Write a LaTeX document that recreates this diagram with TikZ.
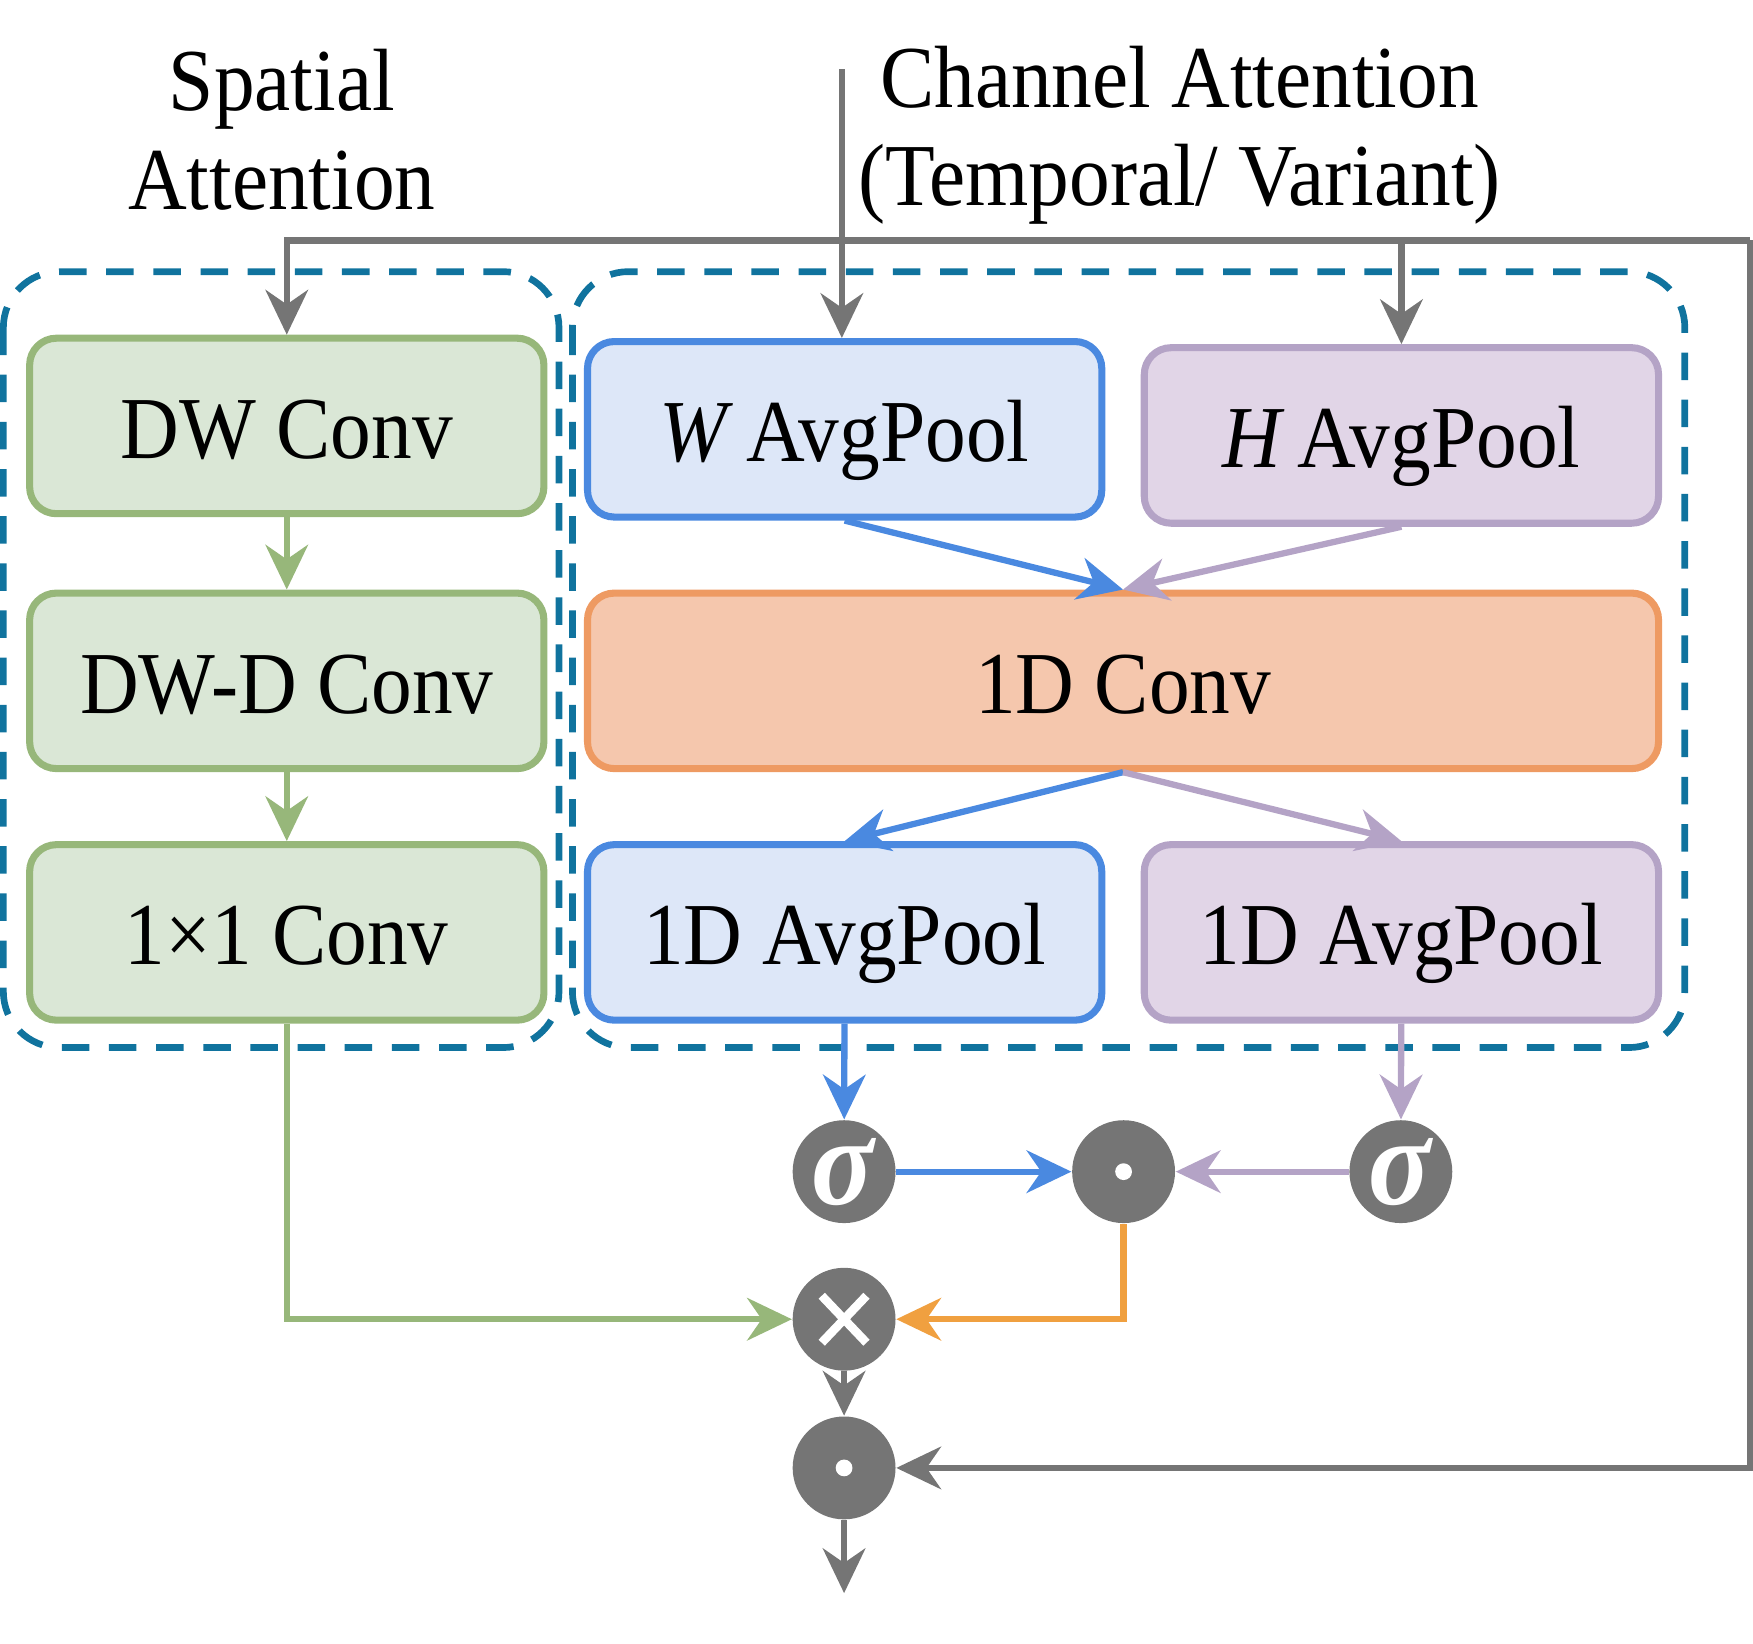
\documentclass[tikz,border=0pt]{standalone}
\usepackage{fontspec}
\setmainfont[FakeStretch=0.92]{Liberation Serif}
\usepackage{tikz}
\usepackage{xcolor}
\usetikzlibrary{arrows.meta}

\definecolor{dashblue}{HTML}{10739E}
\definecolor{opgrey}{HTML}{757575}
\definecolor{greenline}{HTML}{97B77A}
\definecolor{greenfill}{HTML}{DAE7D6}
\definecolor{blueline}{HTML}{4A89E0}
\definecolor{bluefill}{HTML}{DDE7F8}
\definecolor{purpleline}{HTML}{B4A3C6}
\definecolor{purplefill}{HTML}{E1D5E7}
\definecolor{orangeline}{HTML}{EE9A62}
\definecolor{orangefill}{HTML}{F5C7AD}
\definecolor{orangearrow}{HTML}{F0A040}

\begin{document}
\begin{tikzpicture}[
    >={Stealth[length=0.4cm, width=0.38cm, inset=0.13cm]},
    every node/.style={font=\fontsize{22.5}{25}\selectfont},
    box/.style={rectangle, rounded corners=0.24cm, line width=1.8pt, minimum width=4.6cm, minimum height=1.57cm, text height=17pt, text depth=0.5pt, align=center},
    greenbox/.style={box, draw=greenline, fill=greenfill},
    bluebox/.style={box, draw=blueline, fill=bluefill},
    purplebox/.style={box, draw=purpleline, fill=purplefill},
    orangebox/.style={box, draw=orangeline, fill=orangefill, minimum width=9.58cm},
    op/.style={circle, fill=opgrey, inner sep=0pt, minimum size=0.92cm, text=white},
    dotop/.style={op, path picture={\fill[white] (path picture bounding box.center) circle (0.075);}},
    timesop/.style={op, path picture={
        \draw[white, line width=2.2pt] ([shift={(-0.2,-0.21)}]path picture bounding box.center) -- ([shift={(0.2,0.21)}]path picture bounding box.center);
        \draw[white, line width=2.2pt] ([shift={(-0.2,0.21)}]path picture bounding box.center) -- ([shift={(0.2,-0.21)}]path picture bounding box.center);}},
    ln/.style={line width=1.6pt},
    dashbox/.style={draw=dashblue, line width=1.7pt, dash pattern=on 7pt off 5pt, rounded corners=0.5cm}
]
    \useasboundingbox (0,0) rectangle (15.68,-14.70);

    % titles
    \node[align=center] (spatial) at (2.52, -1.16) {Spatial\\Attention};
    \node[align=center] (channel) at (10.55, -1.21) {Channel Attention\\(Temporal/ Variant)};

    % attention groups
    \draw[dashbox] (0.03, -2.43) rectangle (5.00, -9.37);
    \draw[dashbox] (5.12, -2.43) rectangle (15.07, -9.37);

    % spatial branch
    \node[greenbox] (dw) at (2.565, -3.81) {DW Conv};
    \node[greenbox] (dwd) at (2.565, -6.09) {DW-D Conv};
    \node[greenbox] (pw) at (2.565, -8.34) {1×1 Conv};

    % channel branch
    \node[bluebox] (wpool) at (7.555, -3.84) {\textit{W}\hspace{-2pt} AvgPool};
    \node[purplebox] (hpool) at (12.535, -3.895) {\textit{H}\hspace{-2pt} AvgPool};
    \node[orangebox] (conv1d) at (10.045, -6.09) {1D Conv};
    \node[bluebox] (wavg) at (7.555, -8.34) {1D AvgPool};
    \node[purplebox] (havg) at (12.535, -8.34) {1D AvgPool};

    % operators
    \node[op] (sigw) at (7.55, -10.48) {\fontsize{32}{32}\selectfont\textbf{\textit{σ}}};
    \node[dotop] (mul) at (10.05, -10.48) {};
    \node[op] (sigh) at (12.53, -10.48) {\fontsize{32}{32}\selectfont\textbf{\textit{σ}}};
    \node[timesop] (times) at (7.55, -11.80) {};
    \node[dotop] (outdot) at (7.55, -13.13) {};

    \coordinate (in) at (7.53, -0.62);
    \coordinate (rail) at (15.65, -2.15);
    \coordinate (out) at (7.55, -14.25);

    % input and skip connection
    \draw[->, ln, opgrey] (in) -- (in |- wpool.north);
    \draw[->, ln, opgrey] (rail) -- (rail -| dw.north) -- (dw.north);
    \draw[->, ln, opgrey] (rail -| hpool.north) -- (hpool.north);
    \draw[->, ln, opgrey] (rail) -- (rail |- outdot) -- (outdot);

    % spatial flow
    \draw[->, ln, greenline] (dw) -- (dwd);
    \draw[->, ln, greenline] (dwd) -- (pw);
    \draw[->, ln, greenline] (pw.south) |- (times);

    % channel flow
    \draw[->, ln, blueline] (wpool.south) -- (conv1d.north);
    \draw[->, ln, purpleline] (hpool.south) -- (conv1d.north);
    \draw[->, ln, blueline] (conv1d.south) -- (wavg.north);
    \draw[->, ln, purpleline] (conv1d.south) -- (havg.north);
    \draw[->, ln, blueline] (wavg) -- (sigw);
    \draw[->, ln, purpleline] (havg) -- (sigh);
    \draw[->, ln, blueline] (sigw) -- (mul);
    \draw[->, ln, purpleline] (sigh) -- (mul);
    \draw[->, ln, orangearrow] (mul.south) |- (times);

    % output
    \draw[->, ln, opgrey] (times) -- (outdot);
    \draw[->, ln, opgrey] (outdot) -- (out);
\end{tikzpicture}
\end{document}
